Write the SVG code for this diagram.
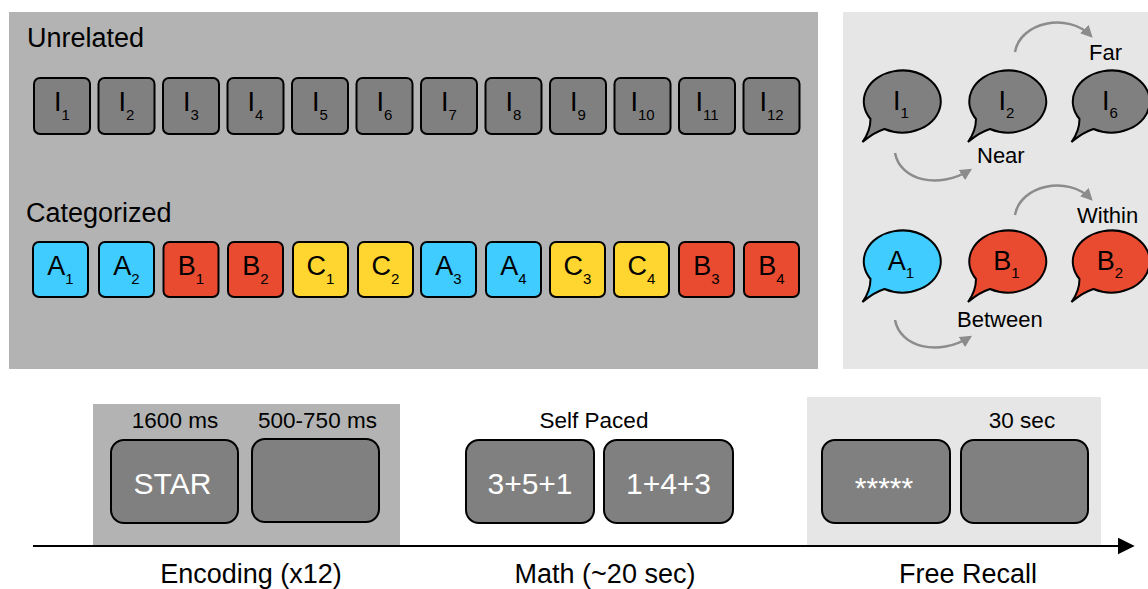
<svg xmlns="http://www.w3.org/2000/svg" width="1148" height="589" viewBox="0 0 1148 589">
<style>
text{font-family:"Liberation Sans",Arial,sans-serif;fill:#000}
.sq{stroke:#000;stroke-width:2}
.g{fill:#808080}
.a{fill:#40CCFF}
.b{fill:#E84B30}
.c{fill:#FFD530}
.lt{font-size:27px;text-anchor:middle}
.sub{font-size:15px}
.scr{fill:#808080;stroke:#000;stroke-width:2}
.wt{fill:#fff;text-anchor:middle;font-size:30px}
.lab{font-size:22.5px;text-anchor:middle}
.big{font-size:27px;text-anchor:middle}
.hd{font-size:27px}
.rl{font-size:22px}
.arc{fill:none;stroke:#8C8C8C;stroke-width:2.5}
</style>
<defs>
<path id="bub" d="M-31,18 A38.5,31 0 1 1 -17,28 Q-27,31 -39,41 Q-31,30 -31,18 Z" stroke="#000" stroke-width="2"/>
<marker id="gh" viewBox="0 0 10 10" refX="8" refY="5" markerWidth="12" markerHeight="12" markerUnits="userSpaceOnUse" orient="auto">
<path d="M0,0 L10,5 L0,10 z" fill="#8C8C8C"/>
</marker>
<marker id="bh" viewBox="0 0 10 10" refX="9" refY="5" markerWidth="17" markerHeight="17" markerUnits="userSpaceOnUse" orient="auto">
<path d="M0,0 L10,5 L0,10 z" fill="#000"/>
</marker>
</defs>

<g id="panels">
<rect x="9" y="12" width="809" height="357" fill="#B3B3B3"/>
<rect x="843" y="12" width="305" height="357" fill="#E6E6E6"/>
<rect x="93" y="404" width="307" height="141" fill="#B3B3B3"/>
<rect x="807" y="397" width="294" height="148" fill="#E6E6E6"/>
</g>

<text class="hd" x="27" y="47">Unrelated</text>
<text class="hd" x="26" y="222">Categorized</text>

<g id="unrelated">
<g id="u1"><rect class="sq g" x="34" y="78" width="56" height="56" rx="6"/><text class="lt" x="62" y="111">I<tspan class="sub" dy="9">1</tspan></text></g>
<g id="u2"><rect class="sq g" x="98.5" y="78" width="56" height="56" rx="6"/><text class="lt" x="126.5" y="111">I<tspan class="sub" dy="9">2</tspan></text></g>
<g id="u3"><rect class="sq g" x="163" y="78" width="56" height="56" rx="6"/><text class="lt" x="191" y="111">I<tspan class="sub" dy="9">3</tspan></text></g>
<g id="u4"><rect class="sq g" x="227.5" y="78" width="56" height="56" rx="6"/><text class="lt" x="255.5" y="111">I<tspan class="sub" dy="9">4</tspan></text></g>
<g id="u5"><rect class="sq g" x="292" y="78" width="56" height="56" rx="6"/><text class="lt" x="320" y="111">I<tspan class="sub" dy="9">5</tspan></text></g>
<g id="u6"><rect class="sq g" x="356.5" y="78" width="56" height="56" rx="6"/><text class="lt" x="384.5" y="111">I<tspan class="sub" dy="9">6</tspan></text></g>
<g id="u7"><rect class="sq g" x="421" y="78" width="56" height="56" rx="6"/><text class="lt" x="449" y="111">I<tspan class="sub" dy="9">7</tspan></text></g>
<g id="u8"><rect class="sq g" x="485.5" y="78" width="56" height="56" rx="6"/><text class="lt" x="513.5" y="111">I<tspan class="sub" dy="9">8</tspan></text></g>
<g id="u9"><rect class="sq g" x="550" y="78" width="56" height="56" rx="6"/><text class="lt" x="578" y="111">I<tspan class="sub" dy="9">9</tspan></text></g>
<g id="u10"><rect class="sq g" x="614.5" y="78" width="56" height="56" rx="6"/><text class="lt" x="642.5" y="111">I<tspan class="sub" dy="9">10</tspan></text></g>
<g id="u11"><rect class="sq g" x="679" y="78" width="56" height="56" rx="6"/><text class="lt" x="707" y="111">I<tspan class="sub" dy="9">11</tspan></text></g>
<g id="u12"><rect class="sq g" x="743.5" y="78" width="56" height="56" rx="6"/><text class="lt" x="771.5" y="111">I<tspan class="sub" dy="9">12</tspan></text></g>
</g>

<g id="categorized">
<g id="c1"><rect class="sq a" x="33" y="242" width="55" height="55" rx="6"/><text class="lt" x="60.5" y="275">A<tspan class="sub" dy="9">1</tspan></text></g>
<g id="c2"><rect class="sq a" x="99" y="242" width="55" height="55" rx="6"/><text class="lt" x="126.5" y="275">A<tspan class="sub" dy="9">2</tspan></text></g>
<g id="c3"><rect class="sq b" x="163.5" y="242" width="55" height="55" rx="6"/><text class="lt" x="191" y="275">B<tspan class="sub" dy="9">1</tspan></text></g>
<g id="c4"><rect class="sq b" x="228" y="242" width="55" height="55" rx="6"/><text class="lt" x="255.5" y="275">B<tspan class="sub" dy="9">2</tspan></text></g>
<g id="c5"><rect class="sq c" x="293" y="242" width="55" height="55" rx="6"/><text class="lt" x="320.5" y="275">C<tspan class="sub" dy="9">1</tspan></text></g>
<g id="c6"><rect class="sq c" x="358" y="242" width="55" height="55" rx="6"/><text class="lt" x="385.5" y="275">C<tspan class="sub" dy="9">2</tspan></text></g>
<g id="c7"><rect class="sq a" x="421" y="242" width="55" height="55" rx="6"/><text class="lt" x="448.5" y="275">A<tspan class="sub" dy="9">3</tspan></text></g>
<g id="c8"><rect class="sq a" x="486" y="242" width="55" height="55" rx="6"/><text class="lt" x="513.5" y="275">A<tspan class="sub" dy="9">4</tspan></text></g>
<g id="c9"><rect class="sq c" x="550" y="242" width="55" height="55" rx="6"/><text class="lt" x="577.5" y="275">C<tspan class="sub" dy="9">3</tspan></text></g>
<g id="c10"><rect class="sq c" x="614" y="242" width="55" height="55" rx="6"/><text class="lt" x="641.5" y="275">C<tspan class="sub" dy="9">4</tspan></text></g>
<g id="c11"><rect class="sq b" x="679" y="242" width="55" height="55" rx="6"/><text class="lt" x="706.5" y="275">B<tspan class="sub" dy="9">3</tspan></text></g>
<g id="c12"><rect class="sq b" x="744" y="242" width="55" height="55" rx="6"/><text class="lt" x="771.5" y="275">B<tspan class="sub" dy="9">4</tspan></text></g>
</g>

<g id="bubbles">
<g id="bI1"><use href="#bub" x="901.5" y="101" class="g"/><text class="lt" x="901" y="110">I<tspan class="sub" dy="8">1</tspan></text></g>
<g id="bI2"><use href="#bub" x="1007" y="101" class="g"/><text class="lt" x="1006.5" y="110">I<tspan class="sub" dy="8">2</tspan></text></g>
<g id="bI6"><use href="#bub" x="1110.5" y="101" class="g"/><text class="lt" x="1110" y="110">I<tspan class="sub" dy="8">6</tspan></text></g>
<g id="bA1"><use href="#bub" x="901.5" y="261" class="a"/><text class="lt" x="901" y="270">A<tspan class="sub" dy="8">1</tspan></text></g>
<g id="bB1"><use href="#bub" x="1007" y="261" class="b"/><text class="lt" x="1006.5" y="270">B<tspan class="sub" dy="8">1</tspan></text></g>
<g id="bB2"><use href="#bub" x="1110.5" y="261" class="b"/><text class="lt" x="1110" y="270">B<tspan class="sub" dy="8">2</tspan></text></g>
</g>

<g id="connectors">
<path class="arc" d="M1015,52 C1020,22 1068,12 1091,36" marker-end="url(#gh)"/>
<path class="arc" d="M895,153 C900,180 938,190 970,170" marker-end="url(#gh)"/>
<path class="arc" d="M1015,215 C1020,185 1068,175 1091,199" marker-end="url(#gh)"/>
<path class="arc" d="M895,320 C900,347 938,357 970,337" marker-end="url(#gh)"/>
<line x1="33" y1="546" x2="1133" y2="546" stroke="#000" stroke-width="2" marker-end="url(#bh)"/>
</g>

<g id="relabels">
<text class="rl" x="1089" y="60">Far</text>
<text class="rl" x="977" y="163">Near</text>
<text class="rl" x="1077" y="223">Within</text>
<text class="rl" x="957" y="327">Between</text>
</g>

<g id="encoding">
<text class="lab" x="175" y="428">1600 ms</text>
<text class="lab" x="317.5" y="428">500-750 ms</text>
<g id="s1"><rect class="scr" x="111" y="440" width="127" height="83" rx="13"/><text class="wt" x="172.5" y="494">STAR</text></g>
<g id="s2"><rect class="scr" x="252" y="439" width="127" height="83" rx="13"/></g>
<text class="big" x="251" y="583">Encoding (x12)</text>
</g>

<g id="math">
<text class="lab" x="594" y="428">Self Paced</text>
<g id="m1"><rect class="scr" x="466" y="440" width="128" height="83" rx="13"/><text class="wt" x="530" y="494">3+5+1</text></g>
<g id="m2"><rect class="scr" x="604" y="440" width="129" height="83" rx="13"/><text class="wt" x="668.5" y="494">1+4+3</text></g>
<text class="big" x="605" y="583">Math (~20 sec)</text>
</g>

<g id="recall">
<text class="lab" x="1022" y="428">30 sec</text>
<g id="r1"><rect class="scr" x="822" y="440" width="128" height="83" rx="13"/><text class="wt" x="884" y="498">*****</text></g>
<g id="r2"><rect class="scr" x="961" y="440" width="127" height="83" rx="13"/></g>
<text class="big" x="968" y="583">Free Recall</text>
</g>
</svg>
